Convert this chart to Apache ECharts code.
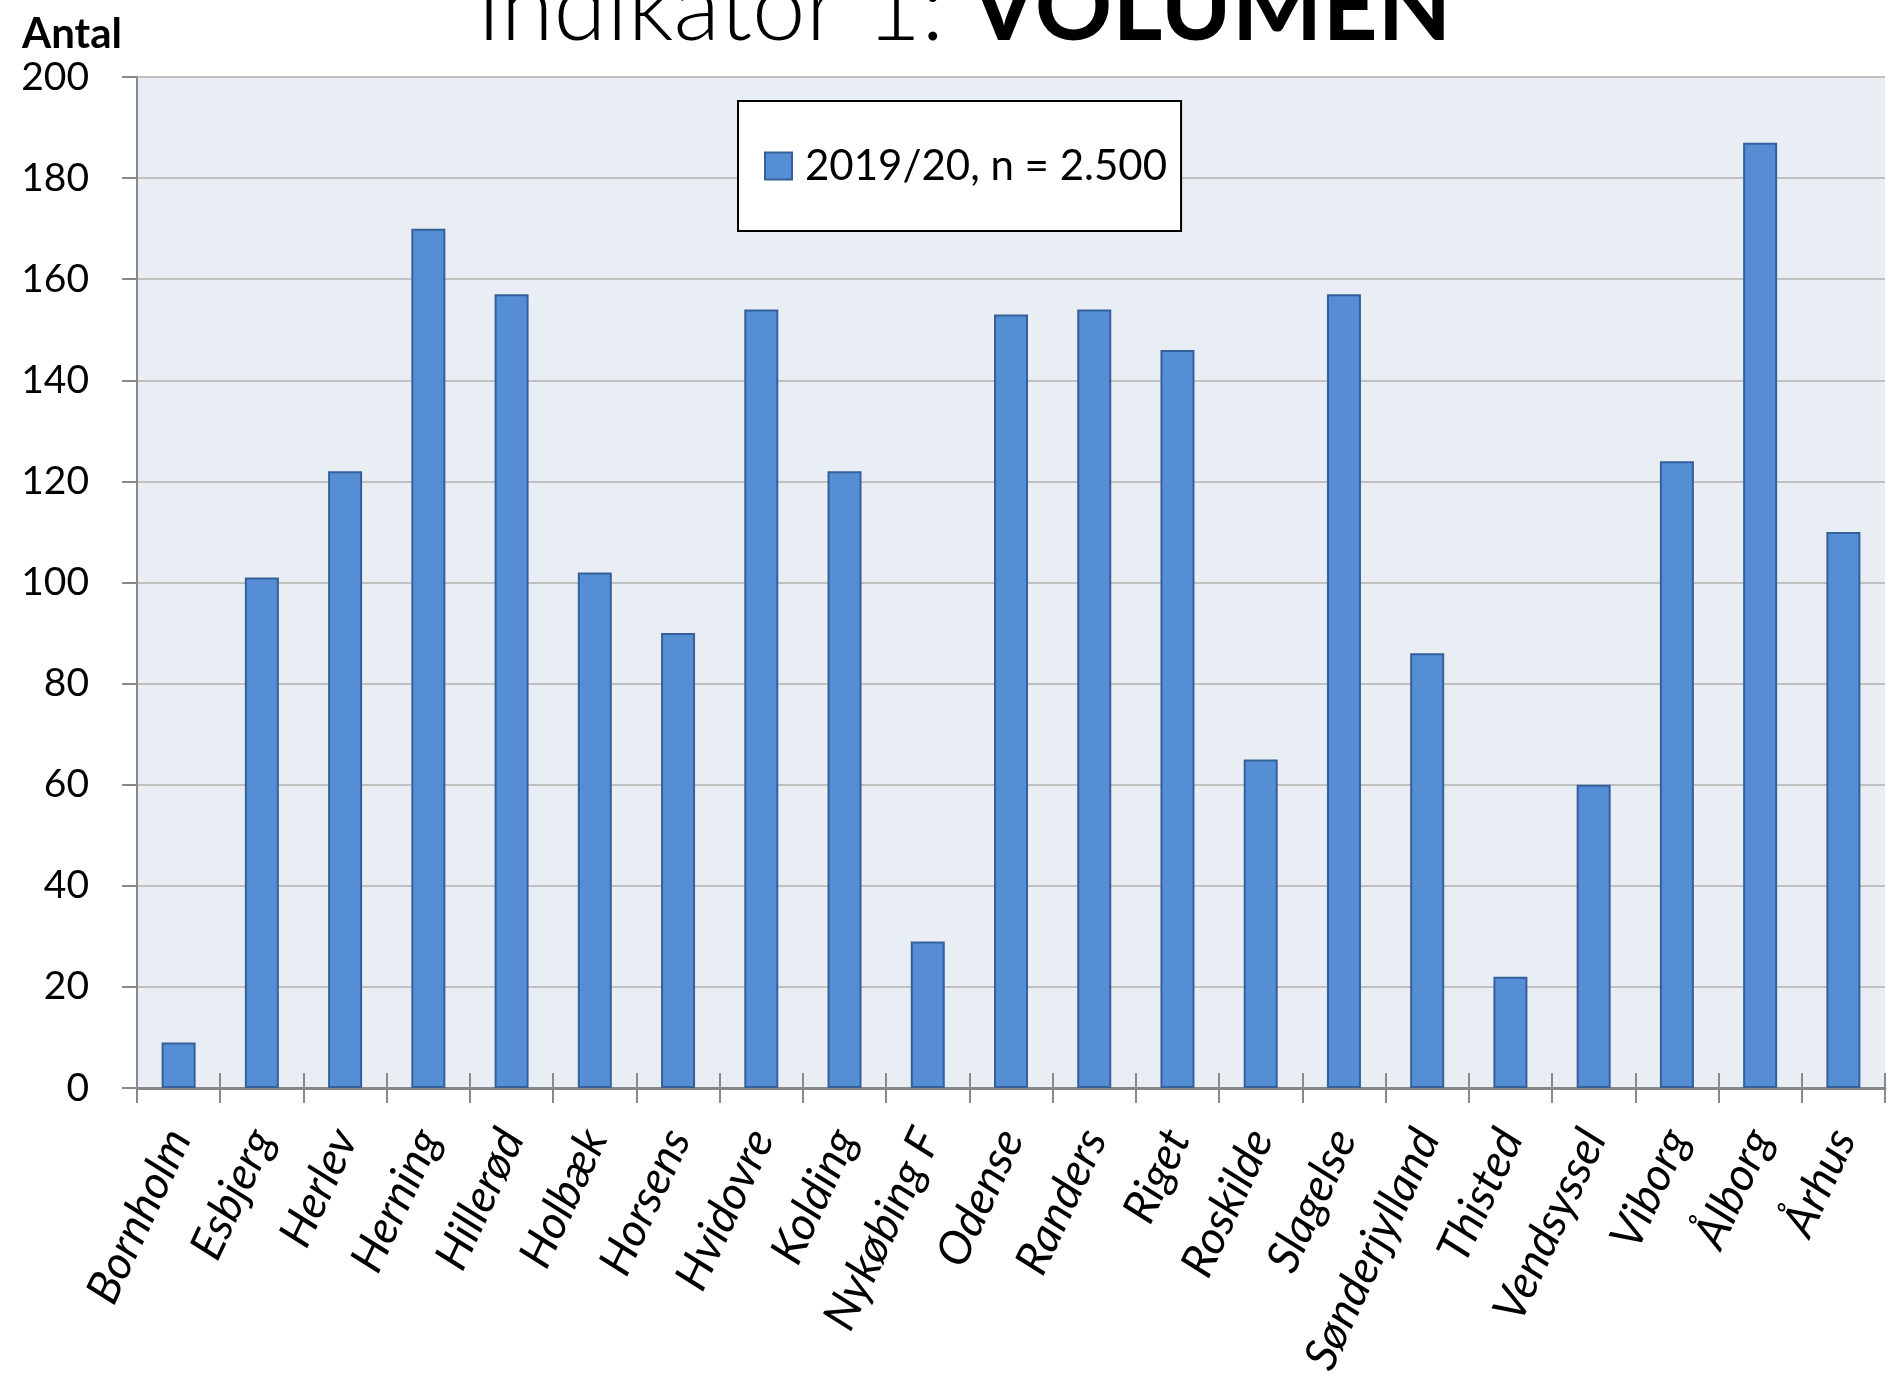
<!DOCTYPE html>
<html>
<head>
<meta charset="utf-8">
<script src="https://cdn.jsdelivr.net/npm/echarts@6/dist/echarts.min.js"></script>
<style>
html,body{margin:0;padding:0;background:#fff;}
#chart{width:1892px;height:1383px;}
</style>
</head>
<body>
<div id="chart"></div>
<script>
var hospitals = ['Bornholm','Esbjerg','Herlev','Herning','Hillerød','Holbæk','Horsens','Hvidovre','Kolding','Nykøbing F','Odense','Randers','Riget','Roskilde','Slagelse','Sønderjylland','Thisted','Vendsyssel','Viborg','Ålborg','Århus'];
var volumen = [9,101,122,170,157,102,90,154,122,29,153,154,146,65,157,86,22,60,124,187,110];
var seriesName = '2019/20, n = 2.500';
var yTicks = {min:0, max:200, step:20};

var chart = echarts.init(document.getElementById('chart'));
var font = 'Lato';

var option = {
	animation:false,
	title:[{
		text:'{l|Indikator 1: }{b|VOLUMEN}',
		left:959,
		textAlign:'center',
		top:-44,
		textStyle:{
			rich:{
				l:{fontFamily:font,fontSize:96,fontWeight:300,color:'#000'},
				b:{fontFamily:font,fontSize:96,fontWeight:'bold',color:'#000'}
			}
		}
	},{
		text:'Antal',
		left:17,
		top:8,
		textStyle:{fontFamily:font,fontSize:42,fontWeight:'bold',color:'#000'}
	}],
	legend:{
		data:[seriesName],
		left:738,
		top:101,
		padding:[44,14,44,26],
		backgroundColor:'#fff',
		borderColor:'#000',
		borderWidth:2,
		itemWidth:27,
		itemHeight:27,
		icon:'rect',
		textStyle:{fontFamily:font,fontSize:42,color:'#000',padding:[0,0,0,8]}
	},
	grid:{
		left:137,
		right:7,
		top:77,
		bottom:295,
		show:true,
		backgroundColor:'#e9edf4',
		borderWidth:0
	},
	xAxis:[{
		type:'category',
		data:hospitals,
		axisLine:{lineStyle:{color:'#898989',width:3}},
		axisTick:{show:true,length:15,interval:0,lineStyle:{color:'#898989',width:2}},
		axisLabel:{
			interval:0,
			rotate:65,
			margin:44,
			fontFamily:font,
			fontSize:46,
			fontStyle:'italic',
			color:'#000'
		}
	},{
		type:'category',
		data:hospitals,
		position:'bottom',
		axisLine:{show:false},
		axisTick:{show:true,inside:true,length:15,interval:0,lineStyle:{color:'#898989',width:2}},
		axisLabel:{show:false}
	}],
	yAxis:{
		type:'value',
		min:yTicks.min,
		max:yTicks.max,
		interval:yTicks.step,
		axisLine:{show:true,lineStyle:{color:'#898989',width:2}},
		axisTick:{show:true,length:15,lineStyle:{color:'#898989',width:2}},
		splitLine:{lineStyle:{color:'#c0c0c0',width:2}},
		axisLabel:{margin:48,fontFamily:font,fontSize:39,color:'#000'}
	},
	series:[{
		name:seriesName,
		type:'bar',
		data:volumen,
		barWidth:34,
		itemStyle:{color:'#558ed5',borderColor:'#35609a',borderWidth:2}
	}]
};
chart.setOption(option);
</script>
</body>
</html>
